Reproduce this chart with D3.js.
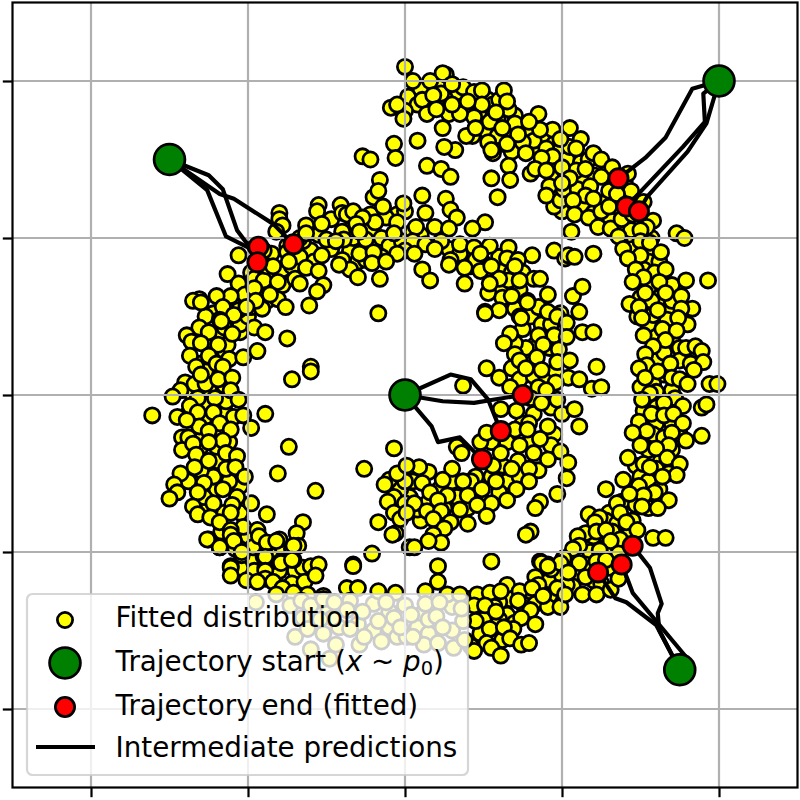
<!DOCTYPE html>
<html><head><meta charset="utf-8">
<script src="https://cdn.jsdelivr.net/npm/d3@7"></script>
<style>html,body{margin:0;padding:0;background:#fff}svg{display:block}text{font-family:"DejaVu Sans";fill:#000}</style>
</head><body><svg id="c" width="800" height="800"></svg>
<script>
const tickValues=[-2,-1,0,1,2];
const fittedDenseTop=[[.02,1.9],[.08,1.85],[.1,1.95],[.2,1.87],[.22,1.97],[.28,1.9],[.33,1.85],[.38,1.9],[.42,1.82],[.47,1.8],[.53,1.88],[.56,1.85],[.6,1.88],[.7,1.78],[.75,1.7],[.52,1.68],[.62,1.6],[.72,1.58],[.78,1.66],[.83,1.58],[.88,1.62],[.95,1.6],[.98,1.55],[1.03,1.5],[1.05,1.58],[.92,1.47],[.97,1.4],[1.02,1.42],[1.12,1.48],[1.17,1.5],[1.2,1.4],[1.3,1.38],[1.12,1.37],[1.06,1.3],[1.14,1.2],[1.2,1.16],[1.3,1.14],[1.35,1.2],[1.4,1.25],[1.47,1.2],[1.3,1.3],[1.4,1.35],[1,1.17],[.95,1.2]];
const fittedDenseRight=[[1.46,1],[1.57,1],[1.55,.92],[1.45,.93],[1.55,.85],[1.62,.85],[1.52,.8],[1.7,.7],[1.55,.68],[1.68,.55],[1.62,.62],[1.7,.6],[1.5,.62],[1.48,.5],[1.55,.45],[1.67,.48],[1.8,.45],[1.7,.35],[1.6,.37],[1.75,.3],[1.6,.22],[1.65,.27],[1.75,.22],[1.82,.2],[1.65,.13],[1.58,.07],[1.6,.02],[1.7,.03],[1.5,.05],[1.6,-.08],[1.72,-.02],[1.52,-.1],[1.6,-.18],[1.7,-.18],[1.58,-.25],[1.65,-.27],[1.75,-.25],[1.55,-.35],[1.63,-.42],[1.7,-.35],[1.47,-.45],[1.6,-.47],[1.68,-.5],[1.5,-.52],[1.45,-.6],[1.55,-.55],[1.62,-.6],[1.38,-.68],[1.47,-.7],[1.55,-.72],[1.3,-.75],[1.45,-.8],[1.28,-.8],[1.35,-.82],[1.2,-.9],[1.32,-.87],[1.42,-.9],[1.15,-.88],[1.1,-.9],[1.18,-1],[1.28,-.97],[1.05,-1.05],[1.15,-1.08],[1.3,-1.1],[1.1,-1.15],[1.2,-1.18],[1.25,-1.2],[.98,-1.12],[.92,-1.18],[1,-1.15],[.92,-1.28],[1.07,-1.22]];
const fittedDenseBottom=[[.85,-1.28],[.78,-1.27],[.75,-1.33],[.67,-1.3],[.6,-1.32],[.65,-1.4],[.7,-1.45],[.6,-1.43],[.5,-1.43],[.56,-1.55],[.62,-1.56],[.48,-1.52],[.4,-1.3],[.3,-1.35],[.27,-1.27],[.1,-1.4],[.08,-1.48],[.15,-1.52],[.3,-1.5],[.42,-1.6],[-.1,-1.38],[-.2,-1.33],[-.1,-1.48],[-.2,-1.5],[-.3,-1.46],[-.42,-1.48],[-.5,-1.38],[-.58,-1.38],[-.65,-1.42],[-.68,-1.28]];
const fittedDenseLeft=[[-.8,-1.12],[-.7,-1.12],[-.65,-1.1],[-.85,-1.06],[-.98,-1.05],[-.96,-1.12],[-1.05,-1.1],[-1.08,-.98],[-1,-.9],[-.92,-.98],[-.82,-1],[-.78,-.97],[-1.17,-.87],[-1.15,-.75],[-1.05,-.75],[-1.25,-.7],[-1.2,-.6],[-1.28,-.65],[-1.05,-.58],[-1.12,-.55],[-1.22,-.52],[-1.3,-.48],[-1.38,-.55],[-1.2,-.42],[-1.3,-.33],[-1.2,-.33],[-1.12,-.3],[-1.3,-.26],[-1.18,-.24],[-1.28,-.15],[-1.15,-.1],[-1.38,-.12],[-1.25,-.07],[-1.14,-.04],[-1.25,.04],[-1.37,.02],[-1.15,.06],[-1.3,.2],[-1.27,.15],[-1.15,.28],[-1.2,.38],[-1.28,.33],[-1.13,.32],[-1.05,.4],[-1.15,.43],[-1.22,.52],[-1.05,.45],[-1,.5],[-1.1,.58],[-.98,.56],[-1.03,.7],[-.95,.65],[-.98,.78],[-.9,.63],[-.88,.6],[-.92,.8],[-.85,.75],[-.78,.8],[-.72,.82],[-.78,.7],[-.75,.95],[-.6,.92],[-.65,.98],[-.55,1.02],[-.58,.85],[-.47,.93],[-.35,.92],[-.3,.85],[-.25,.86],[-.33,1],[-.22,1.05],[-.15,1],[-.1,.95],[-.02,.98],[-.15,.88],[.05,1.04],[.1,1.02],[-.05,1.15],[-.12,1.13],[-.22,1.15],[-.47,1.12],[-.35,1.05],[-.67,1],[-.72,.96],[-.85,.9],[-.9,.92]];
const fittedDenseInner=[[.28,.93],[.35,.9],[.42,.82],[.5,.84],[.6,.8],[.6,.88],[.68,.78],[.75,.78],[.62,.68],[.73,.67],[.7,.55],[.75,.42],[.8,.5],[.87,.45],[.85,.56],[.93,.45],[.83,.32],[.77,.3],[.92,.3],[.95,.38],[.7,.33],[.68,.17],[.73,.1],[.82,.12],[.9,.12],[.85,.05],[.96,.15],[.8,-.02],[.93,-.08],[1,-.12],[.82,-.12],[.75,-.18],[.95,-.25],[.7,-.22],[.65,-.3],[.8,-.3],[.93,-.32],[.55,-.3],[.48,-.3],[.62,-.45],[.55,-.52],[.45,-.52],[.65,-.55],[.85,-.48],[.33,-.6],[.42,-.55],[.3,-.55],[.22,-.6],[.25,-.72],[.05,-.55],[.03,-.65],[.15,-.68],[.1,-.8],[.4,-.72],[.5,-.68],[.6,-.62],[.73,-.52],[.33,-.65],[.08,-.73],[-.03,-.6]];
const fittedUpperRight=[[0,2.09],[.05,2],[.26,2.04],[.24,2.05],[.16,2],[.23,1.92],[.34,1.93],[.37,1.96],[.44,1.93],[.49,1.94],[.63,1.94],[.11,1.88],[.18,1.91],[0,1.81],[.14,1.79],[.28,1.79],[.49,1.85],[.66,1.82],[.65,1.87],[.85,1.79],[.44,1.77],[.35,1.79],[.59,1.75],[.7,1.73],[.54,1.74],[.58,1.8],[.24,1.7],[.08,1.62],[.43,1.65],[.39,1.65],[.59,1.65],[.53,1.61],[.32,1.56],[.25,1.58],[.56,1.54],[.55,1.56],[.68,1.55],[.82,1.62],[.75,1.61],[.9,1.57],[.94,1.69],[.86,1.69],[.79,1.74],[1.05,1.7],[1.12,1.63],[.99,1.63],[1.09,1.57],[.94,1.52],[.87,1.51],[.77,1.54],[.14,1.46],[.23,1.44],[.29,1.39],[.55,1.38],[.66,1.46],[.67,1.37],[.59,1.26],[.8,1.41],[.83,1.44],[.9,1.43],[1.09,1.43],[1.2,1.54],[1.25,1.5],[1.32,1.45],[1.42,1.41],[1.15,1.44],[1.25,1.39],[.92,1.33],[.9,1.27],[.99,1.24],[1.01,1.31],[1.1,1.31],[1.18,1.33],[1.15,1.27],[1.07,1.24],[1.25,1.22],[1.08,1.15],[1.17,1.13],[1.25,1.17],[1.23,1.07],[1.31,1.06],[1.44,1.3],[1.52,1.23],[1.58,1.11],[1.44,1.05],[1.54,1.07],[1.5,1.05],[1.06,1.04],[1.73,1.03],[1.78,1],[1.36,1.01],[1.39,.93],[1.5,.98],[1.56,.97],[1.63,.91],[1.5,.89],[1.42,.87],[1.47,.8],[1.59,.78],[1.66,.8],[1.52,.75],[1.45,.72],[1.62,.72],[1.79,.73],[1.93,.73],[1.66,.65],[1.76,.63],[1.43,.58],[1.57,.6],[1.49,.56],[1.53,.65],[1.83,.55],[1.76,.55],[1.58,.51],[1.74,.49],[1.51,.49],[1.61,.54],[.3,1.85],[.4,1.87],[.2,1.82],[.45,1.7],[.62,1.7],[.72,1.66],[.65,1.6],[1,1.45],[1.05,1.38],[1.2,1.25],[1.3,1.2],[1.35,1.28],[1.38,1.12],[1.45,1.15],[1,1.35],[.3,1.98]];
const fittedInnerTop=[[.11,1.27],[.26,1.25],[0,1.17],[.13,1.16],[.29,1.18],[.33,1.13],[.07,1.07],[.19,1.07],[.28,1.06],[.51,1.1],[.43,1.06],[.05,.98],[.13,.96],[.23,.98],[.35,.96],[.44,.94],[.54,.95],[.66,.94],[.65,.87],[.81,.89],[.72,.86],[.95,.92],[1.02,.87],[1.04,.89],[1.08,.88],[1.2,.9],[.29,.86],[.45,.86],[.28,.83],[.38,.81],[.48,.79],[.55,.82],[.11,.8],[.16,.73],[.38,.71],[.66,.73],[.6,.74],[.82,.74],[.86,.74],[.53,.65],[.62,.62],[.68,.63],[.78,.6],[.91,.64],[.51,.53],[.6,.54],[.73,.5],[.91,.53],[.99,.52],[1.07,.63],[1.13,.69],[1.11,.53],[0,.92],[.19,.93],[.06,.9],[.48,.9],[.7,.82],[.54,.71],[.73,.73]];
const fittedUpperLeft=[[-.09,1.83],[-.05,1.85],[-.01,1.76],[-.07,1.6],[-.06,1.51],[-.27,1.52],[-.22,1.5],[-.16,1.37],[-.2,1.26],[-.17,1.3],[-.8,1.16],[-.8,1.12],[-.78,1.08],[-.55,1.21],[-.56,1.17],[-.41,1.21],[-.4,1.16],[-.37,1.15],[-.33,1.17],[-.14,1.2],[-.01,1.22],[-.19,1.1],[-.05,1.1],[-.27,1.13],[-.31,1.09],[-.53,1.09],[-.63,1.08],[-.4,1.04],[-.63,1.03],[-.82,1.04],[-.25,.99],[-.07,1.03],[-.29,1.04],[-.39,.99],[-.5,.99],[-.44,.98],[-.75,.91],[-.67,.88],[-.53,.89],[-.29,.9],[-.2,.91],[-.05,.9],[-.4,.86],[-.21,.84],[-.12,.85],[-.35,.8],[-.3,.75],[-.16,.74],[-.42,.83],[-.63,.81],[-.55,.79],[-.74,.85],[-.7,.74],[-.67,.71],[-.52,.7],[-.56,.66],[-.61,.57],[-.17,.52],[-1.06,.89],[-1.13,.77],[-1.06,.71],[-.96,.74],[-.9,.73],[-.81,.72],[-.88,.82],[-.84,.82],[-1.02,.64],[-1.11,.63],[-1.2,.63],[-1.31,.61],[-1.35,.6],[-1.16,.56],[-1.06,.54],[-.91,.55],[-.81,.61],[-.76,.56],[-1.27,.5],[-1.18,.48],[-1.09,.51],[-.96,.68],[-.95,.6],[-.86,.64],[-1.01,.56]];
const fittedLeft=[[-1.3,.59],[-1.17,.47],[-1.31,.43],[-.96,.43],[-.89,.4],[-1.1,.39],[-1.25,.4],[-1.39,.38],[-1.36,.34],[-1.3,.33],[-.75,.36],[-1.19,.32],[-1.37,.25],[-1.25,.25],[-1.12,.23],[-1.03,.24],[-.94,.28],[-1.33,.18],[-1.2,.2],[-1.16,.18],[-.6,.18],[-.6,.15],[-.72,.1],[-1.4,.08],[-1.34,.07],[-1.27,.07],[-1.19,.1],[-1.1,.11],[-1.3,.13],[-1.43,.03],[-1.48,-.01],[-1.11,.03],[-1.21,-.02],[-1.32,-.02],[-1.06,-.03],[-1.37,-.07],[-1.32,-.11],[-1.22,-.11],[-1.61,-.13],[-1.45,-.14],[-1.09,-.14],[-1.03,-.13],[-.89,-.12],[-1.18,-.18],[-1.31,-.2],[-1.39,-.16],[-.98,-.21],[-1.11,-.22],[-1.25,-.23],[-1.42,-.27],[-1.38,-.27],[-1.16,-.29],[-1.25,-.3],[-1.42,-.35],[-1.35,-.31],[-.74,-.33],[-1.14,-.37],[-1.07,-.39],[-1.33,-.38],[-1.25,-.42],[-1.34,-.46],[-1.14,-.47],[-1.08,-.46],[-1.43,-.5],[-.81,-.5],[-1.02,-.52],[-1.47,-.57],[-1.45,-.62],[-1.5,-.66],[-1.28,-.56],[-1.32,-.62],[-1.16,-.6],[-.57,-.61],[-1.07,-.65],[-1.35,-.71],[-1.22,-.69],[-1.1,-.7],[-.98,-.69],[-1.32,-.76],[-1.24,-.78],[-1.11,-.75],[-.88,-.76],[-1.18,-.81],[-.65,-.81],[-1.03,-.84],[-1.11,-.86],[-.94,-.86],[-.69,-.88],[-1.25,-.92],[-.88,-.95],[-1.18,-.97],[-1.04,-1.02],[-.97,-.97],[-.8,-.92],[-.68,-.96],[-.72,-.98],[-.9,-1.03],[-1.11,-1.09],[-.79,-1.06],[-.71,-1.05],[-.89,-1.1],[-.6,-1.09],[-.55,-1.08],[-.33,-1.08],[-.21,-1.01],[-.26,-.47],[-.07,-.34],[-.1,-.54],[-.13,-.57],[0,-.55],[-.05,-.5],[-.07,-.65],[-.11,-.68],[0,-.69],[-.17,-.81],[-.06,-.88],[-.07,-.75],[-.03,-.79],[.03,-.97]];
const fittedInnerRight=[[.51,.52],[.74,.49],[.78,.59],[.97,.5],[1.03,.46],[1.13,.4],[1.2,.4],[.67,.39],[.63,.33],[.85,.38],[.88,.32],[1.03,.37],[.98,.29],[.7,.26],[.73,.22],[.84,.24],[.97,.21],[1.05,.22],[.77,.17],[.87,.16],[1.22,.18],[.52,.17],[.6,.11],[.67,.05],[1.04,.11],[1.11,.1],[.96,.08],[.9,.03],[1.19,.04],[1.25,.05],[.37,.06],[.97,-.03],[.87,-.05],[.61,-.09],[.71,-.1],[1.08,-.09],[1.11,-.2],[.79,-.18],[.91,-.2],[.52,-.24],[.78,-.22],[.86,-.28],[.73,-.32],[.33,-.33],[.36,-.37],[.61,-.37],[.82,-.37],[.99,-.36],[1.04,-.43],[.91,-.41],[.72,-.42],[.56,-.45],[.68,-.47],[.79,-.47],[.3,-.47],[.15,-.49],[.09,-.46],[.01,-.45],[1.03,-.53],[.79,-.55],[.58,-.55],[.37,-.55],[.24,-.54],[.11,-.56],[.49,-.6],[.71,-.6],[.16,-.62],[.27,-.64],[.4,-.64],[.06,-.69],[.21,-.67],[.97,-.63],[.65,-.67],[.55,-.69],[.46,-.7],[.86,-.68],[.83,-.72],[.35,-.73],[.14,-.74],[.23,-.74],[.01,-.75],[.52,-.77],[.18,-.79],[.29,-.81],[.4,-.82],[.25,-.85],[.18,-.89],[.23,-.94],[.15,-.93],[.06,-.97],[.8,-.87],[.77,-.89],[.55,-1.06],[.21,-1.09]];
const fittedOuterRight=[[1.64,.42],[1.52,.38],[1.73,.41],[1.66,.35],[1.58,.31],[1.53,.26],[1.79,.3],[1.85,.31],[1.89,.28],[1.9,.21],[1.84,.16],[1.69,.2],[1.54,.19],[1.49,.17],[1.61,.15],[1.7,.11],[1.53,.11],[1.75,.1],[1.8,.07],[1.94,.07],[1.99,.07],[1.56,.01],[1.51,-.03],[1.65,-.05],[1.77,-.07],[1.89,-.08],[1.92,-.06],[1.57,-.12],[1.65,-.13],[1.71,-.12],[1.49,-.17],[1.77,-.18],[1.54,-.23],[1.7,-.24],[1.45,-.24],[1.79,-.29],[1.89,-.26],[1.5,-.32],[1.68,-.32],[1.6,-.34],[1.42,-.4],[1.67,-.4],[1.52,-.44],[1.75,-.44],[1.56,-.46],[1.73,-.51],[1.64,-.52],[1.39,-.54],[1.28,-.6],[1.49,-.58],[1.59,-.62],[1.52,-.64],[1.68,-.67],[1.43,-.63],[1.35,-.69],[1.61,-.72],[1.51,-.71],[1.37,-.75],[1.17,-.76],[1.24,-.78],[1.21,-.81],[1.41,-.81],[1.48,-.86],[1.22,-.87],[1.28,-.86],[1.37,-.92],[1.58,-.91],[1.66,-.91],[1.31,-.93],[1.11,-.96],[1.24,-.99],[1.07,-.98],[1.01,-1.04],[1.11,-1.07],[1.22,-1.06],[.91,-1.08],[.86,-1.06],[1.36,-1.01]];
const fittedBottomRight=[[.21,-1.19],[.13,-1.25],[.35,-1.27],[.46,-1.27],[.54,-1.26],[.65,-1.21],[.61,-1.25],[.73,-1.25],[.72,-1.31],[.44,-1.34],[.57,-1.35],[.51,-1.34],[.58,-1.38],[.83,-1.33],[.8,-1.37],[.74,-1.42],[.83,-1.46],[.45,-1.44],[.54,-1.49],[.69,-1.49],[.63,-1.48],[.67,-1.55],[.52,-1.58],[.74,-1.59],[.79,-1.58],[.44,-1.63],[.55,-1.61],[.61,-1.66],[.87,-1.07],[.93,-1.11],[.83,-1.16],[.85,-1.21],[.81,-1.23],[.99,-1.07],[1.03,-1.21],[.91,-1.35],[.99,-1.35],[.97,-1.23],[1.02,-1.27],[1.15,-1.16],[1.13,-1.27],[1.22,-1.27],[1.31,-1.24],[1.36,-1.17],[1.28,-1.05],[1.04,-1.13],[.88,-1.28],[.91,-1.09]];
const fittedBottomLeft=[[-1.26,-.92],[-1.18,-.97],[-1.11,-.89],[-1.09,-.93],[-1.04,-1],[-.93,-.9],[-.88,-.94],[-.82,-.93],[-.71,-.96],[-.89,-1.03],[-.79,-1.07],[-.72,-1.05],[-1.11,-1.1],[-1.11,-1.15],[-1.01,-1.18],[-.89,-1.12],[-.89,-1.17],[-.94,-1.19],[-.84,-1.19],[-.72,-1.2],[-.64,-1.19],[-.78,-1.23],[-.57,-1.15],[-.33,-1.09],[-.08,-.89],[-.37,-1.23],[-.3,-1.23],[-.17,-1.25],[-.06,-1.26],[-.52,-1.28],[-.62,-1.27],[-.71,-1.26],[-.95,-1.32],[-.82,-1.27],[-.73,-1.34],[-.66,-1.31],[-.6,-1.34],[-.52,-1.3],[-.45,-1.32],[-.35,-1.31],[-.27,-1.38],[-.17,-1.44],[-.07,-1.42],[-.12,-1.32],[-.7,-1.54],[-.62,-1.49],[-.52,-1.52],[-.44,-1.59],[-.35,-1.49],[-.29,-1.59],[-.15,-1.57],[-.6,-1.62],[-.48,-1.68],[-.26,-1.54],[-.05,-1.54],[-.46,-1.42],[-.37,-1.37],[-.54,-1.43],[0,-1.34],[.13,-1.33],[.22,-1.32],[.04,-1.4],[.15,-1.43],[.2,-1.41],[.24,-1.48],[.37,-1.44],[.36,-1.36],[.12,-1.59],[.31,-1.61],[.21,-1.58],[.38,-1.56],[.01,-1.54],[.05,-1.54],[-.03,-1.48]];
const trajectories=[
 [[-1.5,1.5],[-1.25,1.4],[-1.16,1.31],[-1.07,1.05],[-1.01,.97],[-.93,.94]],
 [[-1.5,1.5],[-1.26,1.305],[-1.14,1.01],[-1,.94],[-.94,.845]],
 [[-1.5,1.5],[-1.18,1.28],[-1.09,1.25],[-.84,1.09],[-.71,.96]],
 [[2,2],[1.83,1.95],[1.66,1.64],[1.53,1.51],[1.44,1.44],[1.36,1.38]],
 [[2,2],[1.9,1.92],[1.91,1.74],[1.77,1.58],[1.41,1.2]],
 [[2,2],[1.92,1.73],[1.8,1.55],[1.54,1.26],[1.49,1.17]],
 [[0,0],[.29,.13],[.42,.1],[.53,-.03],[.61,-.23]],
 [[0,0],[.24,-.04],[.44,-.05],[.56,-.03],[.75,0]],
 [[0,0],[.17,-.2],[.21,-.3],[.35,-.27],[.49,-.41]],
 [[1.75,-1.75],[1.62,-1.5],[1.61,-1.39],[1.635,-1.33],[1.56,-1.1],[1.45,-.96]],
 [[1.75,-1.75],[1.8,-1.68],[1.45,-1.26],[1.42,-1.18],[1.38,-1.08]],
 [[1.75,-1.75],[1.6,-1.465],[1.41,-1.32],[1.34,-1.295],[1.23,-1.13]]
];
const trajectoryStarts=[[-1.5,1.5],[2,2],[0,0],[1.75,-1.75]];
const trajectoryEnds=[[-.934,.944],[-.94,.845],[-.71,.96],[1.36,1.38],[1.41,1.2],[1.49,1.17],[.75,0],[.61,-.23],[.49,-.41],[1.45,-.96],[1.38,-1.08],[1.23,-1.13]];
const legendLabels=["Fitted distribution","Trajectory start","Trajectory end (fitted)","Intermediate predictions"];

const fitted=[].concat(fittedDenseTop,fittedDenseRight,fittedDenseBottom,fittedDenseLeft,fittedDenseInner,fittedUpperRight,fittedInnerTop,fittedUpperLeft,fittedLeft,fittedInnerRight,fittedOuterRight,fittedBottomRight,fittedBottomLeft);
const svg=d3.select("#c");
const x=d3.scaleLinear().domain([-2.5,2.5]).range([12.5,797.5]);
const y=d3.scaleLinear().domain([-2.5,2.5]).range([787.5,2.5]);
const YEL="#ffff00",GRN="#008000",RED="#ff0000",sw=2.78;

function dots(g,data,fill,r,w){g.selectAll(null).data(data).join("circle").attr("cx",d=>x(d[0])).attr("cy",d=>y(d[1])).attr("r",r).attr("fill",fill).attr("stroke","#000").attr("stroke-width",w);}

dots(svg.append("g"),fitted,YEL,7.6,sw);

const grid=svg.append("g").attr("stroke","#b0b0b0").attr("stroke-width",2.2);
grid.selectAll(null).data(tickValues).join("line").attr("x1",d=>x(d)).attr("x2",d=>x(d)).attr("y1",y.range()[0]).attr("y2",y.range()[1]);
grid.selectAll(null).data(tickValues).join("line").attr("y1",d=>y(d)).attr("y2",d=>y(d)).attr("x1",x.range()[0]).attr("x2",x.range()[1]);

const line=d3.line().x(d=>x(d[0])).y(d=>y(d[1]));
svg.append("g").selectAll(null).data(trajectories).join("path").attr("d",line).attr("fill","none").attr("stroke","#000").attr("stroke-width",4.17).attr("stroke-linejoin","round");

dots(svg.append("g"),trajectoryStarts,GRN,15.4,sw);
dots(svg.append("g"),trajectoryEnds,RED,9.6,sw);

const ax=d3.axisBottom(x).tickValues(tickValues).tickFormat("").tickSize(9.7);
const ay=d3.axisLeft(y).tickValues(tickValues).tickFormat("").tickSize(9.7);
const ag=svg.append("g").attr("transform",`translate(0,${y.range()[0]})`).call(ax);
const bg=svg.append("g").attr("transform",`translate(${x.range()[0]},0)`).call(ay);
[ag,bg].forEach(g=>{g.selectAll("path").remove();g.selectAll("line").attr("stroke","#000").attr("stroke-width",2.2);});
svg.append("rect").attr("x",x.range()[0]).attr("y",y.range()[1]).attr("width",785).attr("height",785).attr("fill","none").attr("stroke","#000").attr("stroke-width",2.2);

const lg=svg.append("g");
lg.append("rect").attr("x",27).attr("y",594).attr("width",441).attr("height",181).attr("rx",5.5).attr("fill","#fff").attr("fill-opacity",.8).attr("stroke","#ccc").attr("stroke-opacity",.8).attr("stroke-width",2.2);
const fs=27.78;
function lab(py){return lg.append("text").attr("x",115.5).attr("y",py).attr("font-size",fs);}
lab(627).text(legendLabels[0]);
const t=lab(671);
t.append("tspan").text(legendLabels[1]+" (");
t.append("tspan").attr("font-style","italic").text("x");
t.append("tspan").text(" ~ ");
t.append("tspan").attr("font-style","italic").text("p");
t.append("tspan").attr("font-size",fs*.7).attr("dy",4).text("0");
t.append("tspan").attr("dy",-4).text(")");
lab(715).text(legendLabels[2]);
lab(757).text(legendLabels[3]);
lg.append("circle").attr("cx",65).attr("cy",620).attr("r",7.6).attr("fill",YEL).attr("stroke","#000").attr("stroke-width",sw);
lg.append("circle").attr("cx",65).attr("cy",663).attr("r",15.4).attr("fill",GRN).attr("stroke","#000").attr("stroke-width",sw);
lg.append("circle").attr("cx",65).attr("cy",707).attr("r",9.6).attr("fill",RED).attr("stroke","#000").attr("stroke-width",sw);
lg.append("line").attr("x1",36).attr("x2",95).attr("y1",747).attr("y2",747).attr("stroke","#000").attr("stroke-width",4.17);
</script></body></html>
